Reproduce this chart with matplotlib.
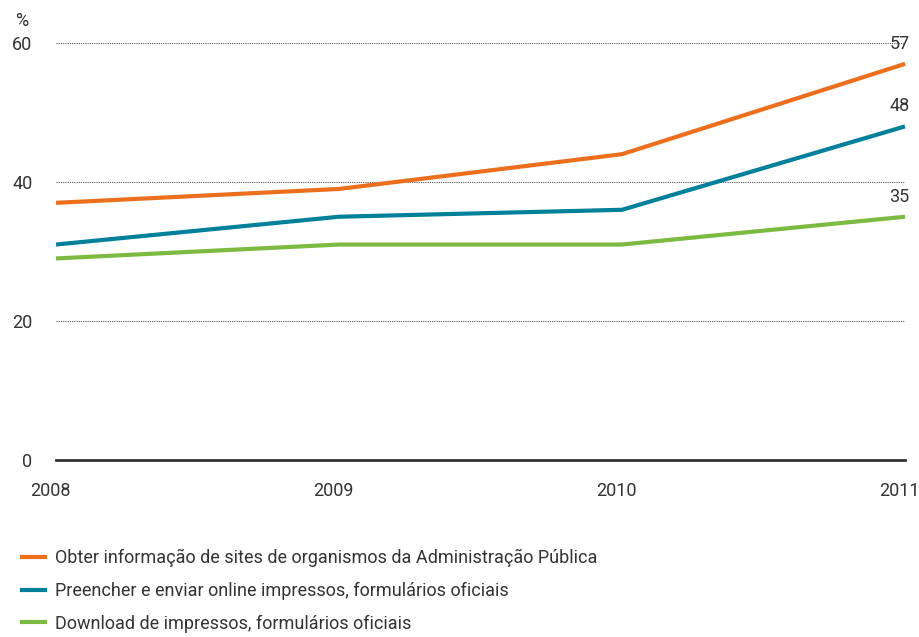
import matplotlib
matplotlib.use("Agg")
from matplotlib import pyplot as plt
from matplotlib.transforms import ScaledTranslation

years = [2008, 2009, 2010, 2011]
obter = [37, 39, 44, 57]
preencher = [31, 35, 36, 48]
download = [29, 31, 31, 35]
labels = ["Obter informação de sites de organismos da Administração Pública",
          "Preencher e enviar online impressos, formulários oficiais",
          "Download de impressos, formulários oficiais"]
colors = ["#EC6F1E", "#00809A", "#7CBA42"]
yticks = [0, 20, 40, 60]

plt.rcParams['font.family'] = ['Roboto', 'DejaVu Sans']
txt = "#333333"

fig = plt.figure(figsize=(9.2, 6.37), dpi=100)
ax = fig.add_axes([0.0609, 0.2779, 0.9228, 0.6546])

for vals, c, lab in zip([obter, preencher, download], colors, labels):
    ax.plot(years, vals, color=c, lw=3, label=lab, clip_on=False,
            solid_capstyle='butt', zorder=3)
    ax.annotate(str(vals[-1]), (years[-1], vals[-1]), xytext=(-4, 8),
                textcoords='offset points', ha='center', va='bottom',
                fontsize=13, color=txt)

ax.set_xlim(2008, 2011)
ax.set_ylim(0, 60)
ax.set_yticks(yticks)
ax.set_xticks(years)
ax.set_xticklabels([str(y) for y in years])
for y in yticks[1:]:
    ax.axhline(y, color='#555555', lw=0.8, ls=(0, (1, 1)), zorder=1)
ax.axhline(0, color='#333333', lw=2, zorder=2, clip_on=False)

for s in ax.spines.values():
    s.set_visible(False)
ax.tick_params(axis='both', length=0, labelsize=13, colors=txt)
ax.tick_params(axis='y', pad=17)
ax.tick_params(axis='x', pad=16)
shift = ScaledTranslation(-6 / 100, 0, fig.dpi_scale_trans)
for t in ax.get_xticklabels():
    t.set_transform(t.get_transform() + shift)
ax.text(-0.04, 1.03, "%", transform=ax.transAxes, ha='center', va='bottom',
        fontsize=13, color=txt)

fig.legend(loc='upper left', bbox_to_anchor=(0.004, 0.164), frameon=False,
           fontsize=13, handlelength=1.5, handletextpad=0.45,
           labelspacing=0.82, labelcolor=txt)

fig.savefig("out.png", dpi=100)
